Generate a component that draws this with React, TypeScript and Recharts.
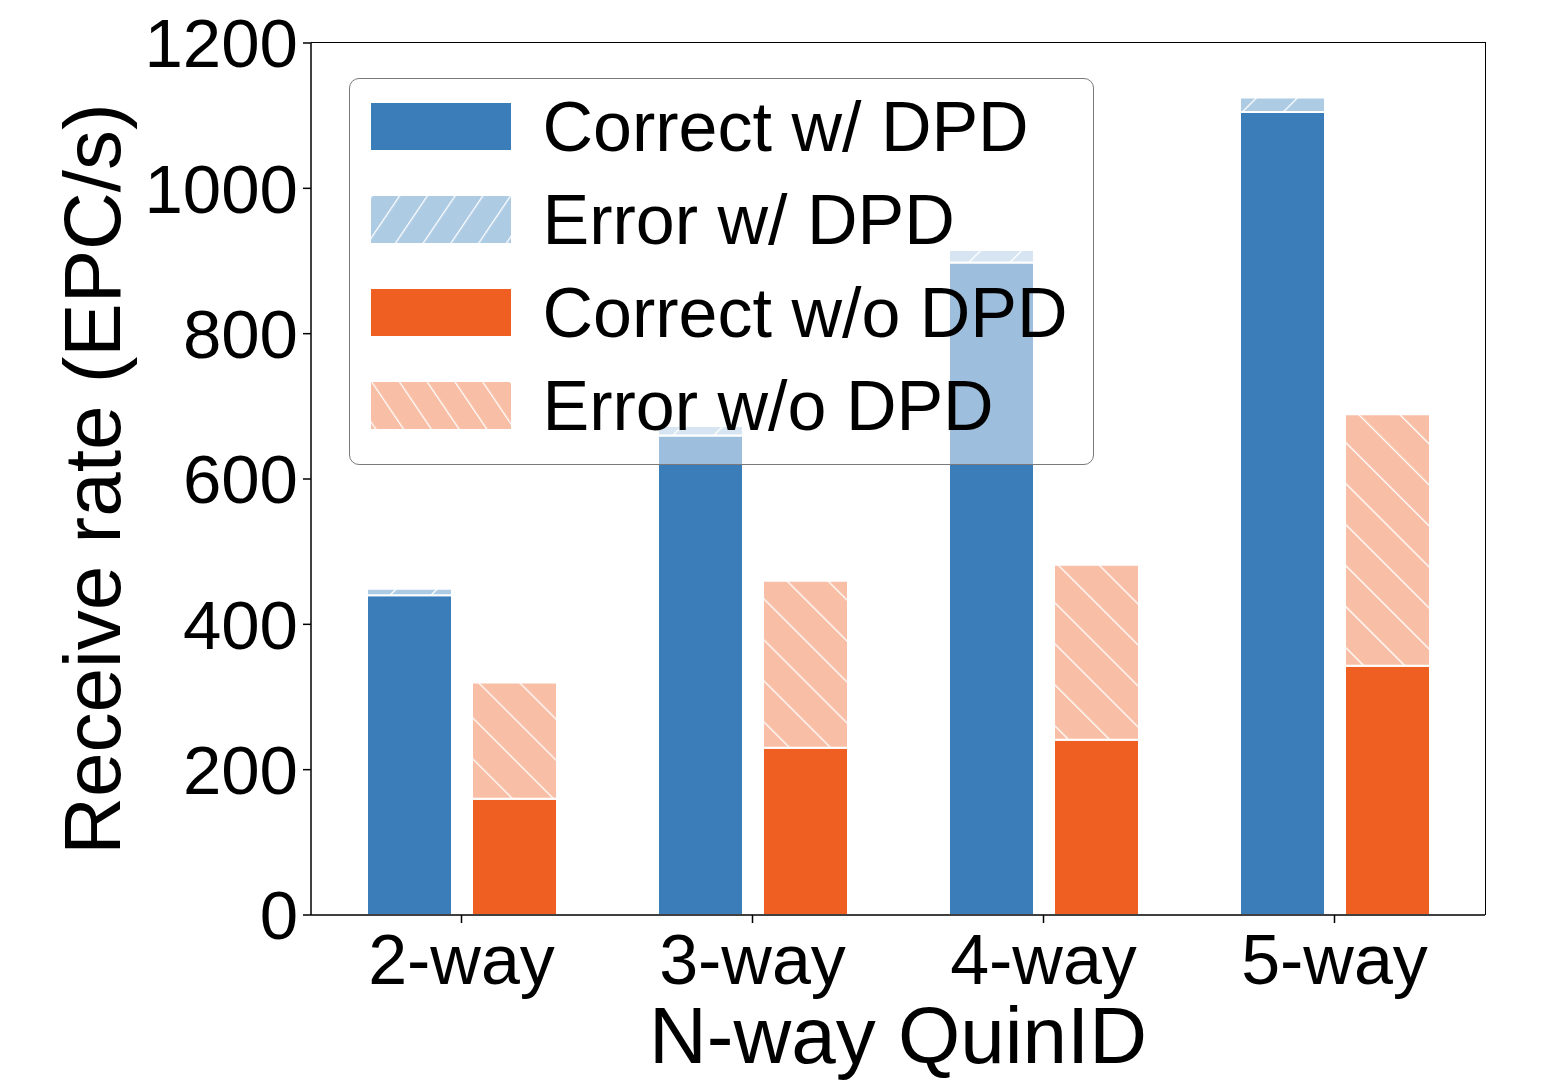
import React from 'react';
import { BarChart, Bar, XAxis, YAxis, Legend, Label } from 'recharts';

const categories = ['2-way', '3-way', '4-way', '5-way'];
const correctWithDpd = [440, 660, 898, 1105];
const errorWithDpd = [9, 13, 17, 20];
const correctWithoutDpd = [160, 230, 241, 343];
const errorWithoutDpd = [160, 230, 241, 346];
const yTicks = [0, 200, 400, 600, 800, 1000, 1200];

const BLUE = '#3a7db8';
const LIGHT_BLUE = '#aecbe4';
const ORANGE = '#f05f22';
const LIGHT_ORANGE = '#f9bfa6';
const FONT = '"Liberation Sans", Arial, sans-serif';

const data = categories.map((name, i) => ({
  name,
  cw: correctWithDpd[i],
  ew: errorWithDpd[i],
  co: correctWithoutDpd[i],
  eo: errorWithoutDpd[i],
}));

const legendItems = [
  { label: 'Correct w/ DPD', color: BLUE, hatch: 0 },
  { label: 'Error w/ DPD', color: LIGHT_BLUE, hatch: 34 },
  { label: 'Correct w/o DPD', color: ORANGE, hatch: 0 },
  { label: 'Error w/o DPD', color: LIGHT_ORANGE, hatch: -34 },
];

const renderLegend = () => (
  <div
    style={{
      width: 745,
      height: 387,
      boxSizing: 'border-box',
      background: 'rgba(255,255,255,0.5)',
      border: '1.5px solid #7a7a7a',
      borderRadius: 10,
      paddingTop: 1,
      fontFamily: FONT,
    }}
  >
    {legendItems.map((item, i) => (
      <div key={i} style={{ display: 'flex', alignItems: 'center', height: 93 }}>
        <svg width={140} height={47} style={{ marginLeft: 20.5, flexShrink: 0 }}>
          <defs>
            <pattern
              id={`lg-${i}`}
              patternUnits="userSpaceOnUse"
              width={23}
              height={23}
              patternTransform={`rotate(${item.hatch})`}
            >
              <line x1={0} y1={-5} x2={0} y2={28} stroke="#fff" strokeWidth={2.5} />
            </pattern>
          </defs>
          <rect x={0} y={0} width={140} height={47} fill={item.color} />
          {item.hatch !== 0 && <rect x={0} y={0} width={140} height={47} fill={`url(#lg-${i})`} />}
        </svg>
        <span style={{ marginLeft: 32, fontSize: 70, lineHeight: 1, color: '#000', whiteSpace: 'nowrap' }}>
          {item.label}
        </span>
      </div>
    ))}
  </div>
);

export default function App() {
  return (
    <div style={{ position: 'absolute', left: 0, top: 0, width: 1546, height: 1085, background: '#fff' }}>
      <BarChart
        width={1546}
        height={1085}
        data={data}
        margin={{ top: 43, right: 61, left: 0, bottom: 0 }}
        barGap={20}
        barSize={85}
      >
        <defs>
          <pattern id="hatchBlue" patternUnits="userSpaceOnUse" width={29} height={29} patternTransform="rotate(45)">
            <rect x={0} y={0} width={29} height={29} fill={LIGHT_BLUE} />
            <line x1={0} y1={-2} x2={0} y2={31} stroke="#fff" strokeWidth={2.5} />
          </pattern>
          <pattern id="hatchOrange" patternUnits="userSpaceOnUse" width={29} height={29} patternTransform="rotate(-45)">
            <rect x={0} y={0} width={29} height={29} fill={LIGHT_ORANGE} />
            <line x1={0} y1={-2} x2={0} y2={31} stroke="#fff" strokeWidth={2.5} />
          </pattern>
        </defs>
        <XAxis
          dataKey="name"
          height={170}
          padding={{ left: 5, right: 5 }}
          tickSize={8}
          tickMargin={11}
          tick={{ fontSize: 70, fill: '#000', fontFamily: FONT }}
          axisLine={{ stroke: '#000', strokeWidth: 1.5 }}
          tickLine={{ stroke: '#000', strokeWidth: 1.5 }}
        >
          <Label
            value="N-way QuinID"
            position="insideBottom"
            offset={22}
            style={{ fontSize: 80, fill: '#000', fontFamily: FONT }}
          />
        </XAxis>
        <YAxis
          width={311}
          domain={[0, 1200]}
          ticks={yTicks}
          interval={0}
          tickSize={8}
          tickMargin={5}
          tick={{ fontSize: 69, fill: '#000', fontFamily: FONT }}
          axisLine={{ stroke: '#000', strokeWidth: 1.5 }}
          tickLine={{ stroke: '#000', strokeWidth: 1.5 }}
        >
          <Label
            value="Receive rate (EPC/s)"
            angle={-90}
            position="insideLeft"
            offset={92}
            style={{ fontSize: 80, fill: '#000', fontFamily: FONT, textAnchor: 'middle' }}
          />
        </YAxis>
        <Bar dataKey="cw" stackId="a" fill={BLUE} stroke="#fff" strokeWidth={2} isAnimationActive={false} />
        <Bar dataKey="ew" stackId="a" fill="url(#hatchBlue)" stroke="#fff" strokeWidth={2} isAnimationActive={false} />
        <Bar dataKey="co" stackId="b" fill={ORANGE} stroke="#fff" strokeWidth={2} isAnimationActive={false} />
        <Bar dataKey="eo" stackId="b" fill="url(#hatchOrange)" stroke="#fff" strokeWidth={2} isAnimationActive={false} />
        <Legend
          layout="vertical"
          align="center"
          verticalAlign="middle"
          content={renderLegend}
          wrapperStyle={{ left: 349, top: 78, width: 745, height: 387 }}
        />
      </BarChart>
      {/* top and right spines of the plot frame */}
      <div
        style={{
          position: 'absolute',
          left: 311,
          top: 42.25,
          width: 1174,
          height: 872,
          borderTop: '1.5px solid #000',
          borderRight: '1.5px solid #000',
          pointerEvents: 'none',
        }}
      />
    </div>
  );
}
